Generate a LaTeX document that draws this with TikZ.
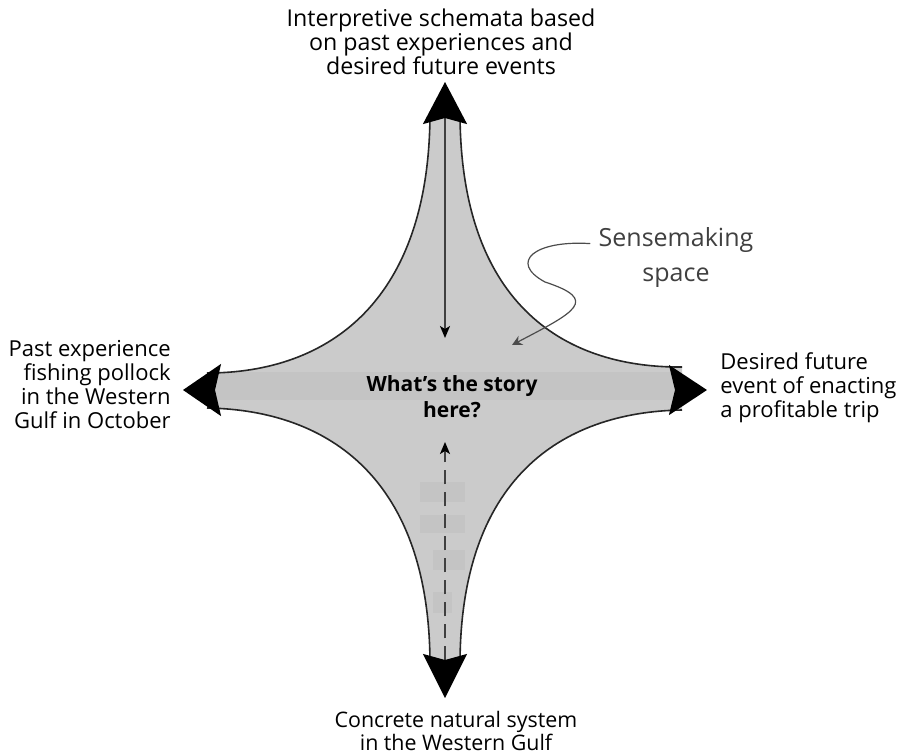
\documentclass[tikz,border=0pt]{standalone}
\usepackage{fontspec}
\setmainfont{Open Sans}
\usepackage{tikz}
\usetikzlibrary{arrows.meta,calc}

\definecolor{spacegray}{HTML}{CBCBCB}
\definecolor{patchgray}{HTML}{C4C4C4}

\begin{document}
\begin{tikzpicture}[
  x=0.5pt, y=-0.5pt,
  label/.style={font=\fontsize{11}{12}\selectfont, inner sep=0pt, align=center},
  biglabel/.style={font=\fontsize{12.5}{17.5}\selectfont, inner sep=0pt, align=center, text=black!75},
  outline/.style={draw=black!85, line width=0.8pt},
  axis/.style={draw=black!75, line width=0.8pt},
  patch/.style={fill=patchgray, draw=none},
  pointer/.style={draw=black!70, line width=0.6pt, -{Stealth[length=5pt, width=5pt]}},
]
\useasboundingbox (0,0) rectangle (902,756);

% the sensemaking space
\path[fill=spacegray]
  (430,112) .. controls (430,300) and (330,373) .. (207,373) -- (207,408)
  .. controls (330,410) and (430,480) .. (430,665) -- (460,665)
  .. controls (460,480) and (560,412) .. (682,410) -- (682,367)
  .. controls (560,368) and (460,300) .. (460,112) -- cycle;
\begin{scope}
  \clip (430,112) .. controls (430,300) and (330,373) .. (207,373) -- (207,408)
  .. controls (330,410) and (430,480) .. (430,665) -- (460,665)
  .. controls (460,480) and (560,412) .. (682,410) -- (682,367)
  .. controls (560,368) and (460,300) .. (460,112) -- cycle;
  \path[patch] (200,372) rectangle (690,400);
  \path[patch] (420,482) rectangle (465,502);
  \path[patch] (420,515) rectangle (465,533);
  \path[patch] (433,550) rectangle (465,570);
  \path[patch] (433,592) rectangle (452,613);
\end{scope}
\draw[outline] (430,112) .. controls (430,300) and (330,373) .. (207,373);
\draw[outline] (207,408) .. controls (330,410) and (430,480) .. (430,665);
\draw[outline] (460,665) .. controls (460,480) and (560,412) .. (682,410);
\draw[outline] (682,367) .. controls (560,368) and (460,300) .. (460,112);

% axes
\coordinate (top) at (445,82);
\coordinate (bottom) at (445,698);
\coordinate (left) at (183,390);
\coordinate (right) at (707,390);
\coordinate (topin) at (445,338);
\coordinate (bottomin) at (445,442);

\draw[axis, {Stealth[black, length=21pt, width=22pt, inset=3pt]}-{Stealth[black, length=6pt, width=5pt, inset=1.5pt]}] (top) -- (topin);
\draw[axis, dash pattern=on 7pt off 4pt, {Stealth[black, length=22pt, width=22pt, inset=3pt]}-{Stealth[black, length=6pt, width=5pt, inset=1.5pt]}] (bottom) -- (bottomin);
\draw[draw=patchgray, line width=0.8pt, {Stealth[black, length=19pt, width=26pt, inset=3pt]}-{Stealth[black, length=19pt, width=25pt, inset=3pt]}] (left) -- (right);

% labels
\node[label, font=\fontsize{11.6}{12}\selectfont] (schemata) at (441,42) {Interpretive schemata based\\on past experiences and\\desired future events};
\node[label, align=right, anchor=east] (past) at (171,385) {Past experience\\fishing pollock\\in the Western\\Gulf in October};
\node[label, align=left, anchor=west] (future) at (720,388) {Desired future\\event of enacting\\a profitable trip};
\node[label, font=\fontsize{10.7}{11.5}\selectfont] (natural) at (456,731) {Concrete natural system\\in the Western Gulf};
\node[label, font=\fontsize{10.5}{13}\selectfont\bfseries] (story) at (452,397) {What’s the story\\here?};
\node[biglabel] (sense) at (676,258) {Sensemaking\\space};

\coordinate (spacept) at (512,345);
\draw[pointer] ([xshift=-4pt, yshift=-8pt]sense.north west)
  .. controls (535,240) and (508,262) .. (545,282)
  .. controls (600,300) and (575,312) .. (spacept);

\end{tikzpicture}
\end{document}
